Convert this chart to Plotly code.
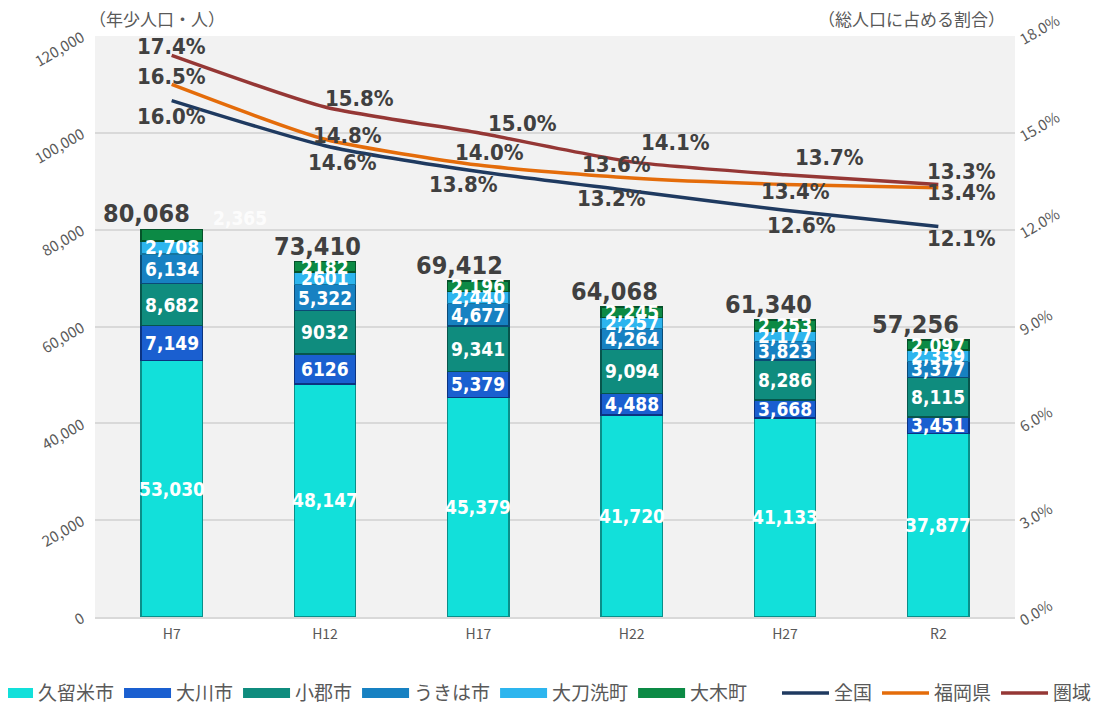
import plotly.graph_objects as go

categories = ["H7", "H12", "H17", "H22", "H27", "R2"]

# 年少人口（人）
kurume = [53030, 48147, 45379, 41720, 41133, 37877]
okawa = [7149, 6126, 5379, 4488, 3668, 3451]
ogori = [8682, 9032, 9341, 9094, 8286, 8115]
ukiha = [6134, 5322, 4677, 4264, 3823, 3377]
tachiarai = [2708, 2601, 2440, 2257, 2177, 2339]
oki = [2365, 2182, 2196, 2245, 2253, 2097]
totals = [80068, 73410, 69412, 64068, 61340, 57256]

# 総人口に占める割合（%）
zenkoku = [16.0, 14.6, 13.8, 13.2, 12.6, 12.1]
fukuoka = [16.5, 14.8, 14.0, 13.6, 13.4, 13.3]
kenniki = [17.4, 15.8, 15.0, 14.1, 13.7, 13.4]

bar_series = [
    ("久留米市", kurume, "#12e0da", "#0a8f8a"),
    ("大川市", okawa, "#1a5fd0", "#0b3380"),
    ("小郡市", ogori, "#0f8c7e", "#07554c"),
    ("うきは市", ukiha, "#1781c2", "#0b4a75"),
    ("大刀洗町", tachiarai, "#2db5ee", "#1575a0"),
    ("大木町", oki, "#0c8a45", "#05522a"),
]
no_comma = {("大川市", "H12"), ("小郡市", "H12"), ("大刀洗町", "H12"), ("大木町", "H12")}

line_series = [
    ("全国", zenkoku, "#1f3a60",
     [(0, -16), (17, -17), (-15, -13), (-20, -8), (16, -15), (23, -12)]),
    ("福岡県", fukuoka, "#e46c0a",
     [(0, 8), (22, 4), (11, 13), (-15, 14), (10, -7), (23, 16)]),
    ("圏域", kenniki, "#953735",
     [(0, 9), (34, 9), (44, 9), (44, 19), (44, 17), (23, -8)]),
]
total_shift = [-25, -8, -19, -17, -17, -23]

JP = "Noto Sans CJK JP"
COND = "DejaVu Sans Condensed"
GRAY = "#595959"
DARK = "#404040"

fig = go.Figure()
annotations = []

base = [0] * len(categories)
for name, vals, col, edge in bar_series:
    fig.add_trace(go.Bar(
        x=categories, y=vals, name=name, marker=dict(color=col, line=dict(color=edge, width=1.5)),
        width=0.4, showlegend=False, legendgroup=name, hoverinfo="y+name",
    ))
    # legend stand-in (wide rectangle symbol)
    fig.add_trace(go.Scatter(
        x=[None], y=[None], mode="lines", name=name, legendgroup=name, legend="legend",
        line=dict(color=col, width=10), showlegend=True,
    ))
    for j, (c, v) in enumerate(zip(categories, vals)):
        txt = f"{v}" if (name, c) in no_comma else f"{v:,}"
        a = dict(x=c, y=base[j] + v / 2, xref="x", yref="y", text=txt, showarrow=False,
                 font=dict(family=COND, size=19, color="white", weight="bold"))
        if name == "大木町" and c == "H7":
            a.update(y=base[j] + v, xshift=68, yshift=11,
                     font=dict(family=COND, size=19, color="rgba(255,255,255,0.85)", weight="bold"))
        annotations.append(a)
        base[j] += v

for j, (c, t) in enumerate(zip(categories, totals)):
    annotations.append(dict(x=c, y=t, xref="x", yref="y", text=f"{t:,}", showarrow=False,
                            yanchor="bottom", xshift=total_shift[j], yshift=-1,
                            font=dict(family=COND, size=25, color=DARK, weight="bold")))

for name, vals, col, offs in line_series:
    fig.add_trace(go.Scatter(
        x=categories, y=vals, name=name, mode="lines", yaxis="y2", legend="legend2",
        line=dict(color=col, width=3.5, shape="spline", smoothing=0.6),
    ))
    for j, (c, v) in enumerate(zip(categories, vals)):
        dx, dy = offs[j]
        annotations.append(dict(x=c, y=v, xref="x", yref="y2", text=f"{v:.1f}%", showarrow=False,
                                xshift=dx, yshift=dy, yanchor="middle",
                                font=dict(family=COND, size=22, color=DARK, weight="bold")))

annotations.append(dict(x=0.0674, y=1.030, xref="paper", yref="paper", text="（年少人口・人）",
                        xanchor="center", yanchor="middle",
                        showarrow=False, font=dict(family=JP, size=17, color=GRAY)))
annotations.append(dict(x=0.888, y=1.030, xref="paper", yref="paper", text="（総人口に占める割合）",
                        xanchor="center", yanchor="middle",
                        showarrow=False, font=dict(family=JP, size=17, color=GRAY)))

legend_style = dict(orientation="h", xanchor="left", yref="paper", y=-0.131, yanchor="middle",
                    font=dict(size=19, color=GRAY, family=JP), itemwidth=47, traceorder="normal",
                    bgcolor="rgba(0,0,0,0)")

fig.update_layout(
    width=1103, height=698,
    margin=dict(l=87, r=96, t=28, b=89, autoexpand=False),
    paper_bgcolor="white", plot_bgcolor="#f2f2f2",
    barmode="stack",
    font=dict(family=JP, color=GRAY, size=14),
    xaxis=dict(type="category", showgrid=False, showline=True, linecolor="#d9d9d9", linewidth=2,
               tickfont=dict(size=14, color=GRAY), ticks="", ticklabelstandoff=3),
    yaxis=dict(range=[0, 120000], dtick=20000, tickformat=",", showgrid=True, gridcolor="#d9d9d9",
               gridwidth=2, zeroline=False, tickangle=-30, tickfont=dict(size=15, color=GRAY),
               ticklabelstandoff=12, ticklabeloverflow="allow"),
    yaxis2=dict(range=[0, 18], dtick=3, tickformat=".1f", ticksuffix="%", overlaying="y", side="right",
                showgrid=False, zeroline=False, tickangle=-30, tickfont=dict(size=15, color=GRAY),
                ticklabeloverflow="allow", ticklabelshift=5, ticklabelstandoff=4),
    legend=dict(legend_style, x=-0.1239),
    legend2=dict(legend_style, x=0.7413),
    annotations=annotations,
    showlegend=True,
)

fig.write_html("out.html")
